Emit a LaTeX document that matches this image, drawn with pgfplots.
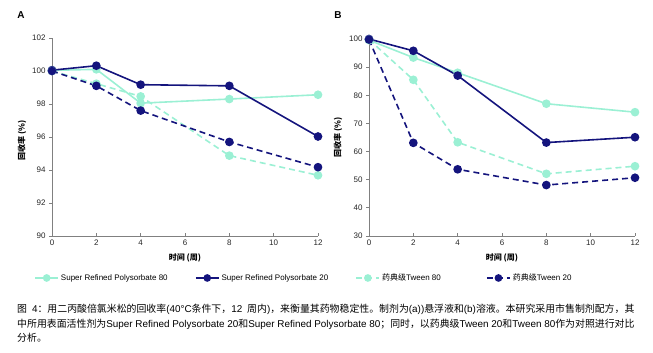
\documentclass[border=0pt]{standalone}
\usepackage{fontspec}
\setmainfont{Liberation Sans}
\newfontfamily\cjkfont{Noto Sans CJK SC}
\newcommand\cjk[1]{{\cjkfont #1}}
\usepackage{pgfplots}
\pgfplotsset{compat=1.18}
\definecolor{lightc}{RGB}{155,240,212}
\definecolor{darkc}{RGB}{20,20,125}
\definecolor{axgray}{RGB}{128,128,128}
\pgfplotsset{
  myaxis/.style={
    scale only axis, width=266pt,
    axis x line=bottom, axis y line=left,
    axis line style={-, axgray, line width=0.9pt},
    xmin=0, xmax=12, xtick={0,2,...,12},
    tick style={axgray, line width=0.8pt},
    major tick length=3pt,
    xtick align=inside, ytick align=outside,
    tick label style={font=\fontsize{8}{9}\selectfont, text=black!85},
    /pgf/number format/assume math mode=true,
    clip=false,
    label style={font=\fontsize{8}{9}\selectfont\bfseries},
  },
  srp80/.style={lightc, line width=1.6pt, mark=*, mark size=3.5pt, mark options={solid, fill=lightc, draw=lightc}},
  srp20/.style={darkc, line width=1.6pt, mark=*, mark size=3.5pt, mark options={solid, fill=darkc, draw=darkc}},
  tw80/.style={lightc, line width=1.6pt, dash pattern=on 6pt off 4pt, mark=*, mark size=3.5pt, mark options={solid, fill=lightc, draw=lightc}},
  tw20/.style={darkc, line width=1.6pt, dash pattern=on 6pt off 4pt, mark=*, mark size=3.5pt, mark options={solid, fill=darkc, draw=darkc}},
}
\begin{document}
\begin{tikzpicture}
\useasboundingbox (0,0) rectangle (653pt,353pt);
% Panel labels
\node[font=\fontsize{10}{12}\selectfont\bfseries] at (21pt,338pt) {A};
\node[font=\fontsize{10}{12}\selectfont\bfseries] at (338pt,338pt) {B};
\begin{axis}[myaxis,
  at={(52pt,117pt)}, anchor=south west, height=198pt,
  ymin=90, ymax=102, ytick={90,92,...,102},
  xlabel={\cjk{时间 (周)}}, ylabel={\cjk{回收率 (\%)}},
  xlabel style={at={(axis description cs:0.5,-0.111)}, anchor=center},
  ylabel style={at={(axis description cs:-0.113,0.485)}, anchor=center},
  legend columns=4,
  legend style={at={(axis description cs:-0.067,-0.212)}, anchor=west, draw=none, fill=none,
    font=\fontsize{8}{9}\selectfont, inner sep=0pt,
    /tikz/every even column/.append style={column sep=4pt}},
  legend image code/.code={\draw[mark repeat=2, mark phase=2, mark size=3pt, #1] plot coordinates {(0pt,0pt) (11.5pt,0pt) (23pt,0pt)};},
]
\addplot[srp80] coordinates {(0,100.04) (2,100.1) (4,98.05) (8,98.3) (12,98.56)};
\addlegendentry{\makebox[128pt][l]{Super Refined Polysorbate 80}}
\addplot[srp20] coordinates {(0,100.05) (2,100.32) (4,99.17) (8,99.1) (12,96.03)};
\addlegendentry{\makebox[128pt][l]{Super Refined Polysorbate 20}}
\addplot[tw80] coordinates {(0,100.0) (2,99.23) (4,98.46) (8,94.87) (12,93.68)};
\addlegendentry{\makebox[98pt][l]{\cjk{药典级}Tween 80}}
\addplot[tw20] coordinates {(0,100.0) (2,99.1) (4,97.6) (8,95.7) (12,94.17)};
\addlegendentry{\cjk{药典级}Tween 20}
\end{axis}
\begin{axis}[myaxis,
  at={(369pt,117pt)}, anchor=south west, height=197pt,
  ymin=30, ymax=100, ytick={30,40,...,100},
  xlabel={\cjk{时间 (周)}}, ylabel={\cjk{回收率 (\%)}},
  xlabel style={at={(axis description cs:0.5,-0.111)}, anchor=center},
  ylabel style={at={(axis description cs:-0.117,0.5)}, anchor=center},
]
\addplot[srp80] coordinates {(0,99.6) (2,93.4) (4,88.0) (8,77.0) (12,74.0)};
\addplot[srp20] coordinates {(0,100.0) (2,95.8) (4,87.0) (8,63.2) (12,65.1)};
\addplot[tw80] coordinates {(0,99.8) (2,85.5) (4,63.3) (8,52.1) (12,54.8)};
\addplot[tw20] coordinates {(0,99.8) (2,63.1) (4,53.7) (8,48.1) (12,50.7)};
\end{axis}
% Caption
\begin{scope}[every node/.style={anchor=west, inner sep=0pt, font=\fontsize{9.9}{11}\selectfont}]
\node at (17pt,44pt) {\cjk{图}\enspace 4\cjk{：用二丙酸倍氯米松的回收率}(40°C\cjk{条件下，}12\enspace\cjk{周内})\cjk{，来衡量其药物稳定性。制剂为}(a))\cjk{悬浮液和}(b)\cjk{溶液。本研究采用市售制剂配方，其}};
\node at (17pt,29pt) {\cjk{中所用表面活性剂为}Super Refined Polysorbate 20\cjk{和}Super Refined Polysorbate 80\cjk{；同时，以药典级}Tween 20\cjk{和}Tween 80\cjk{作为对照进行对比}};
\node at (17pt,15pt) {\cjk{分析。}};
\end{scope}
\end{tikzpicture}
\end{document}
